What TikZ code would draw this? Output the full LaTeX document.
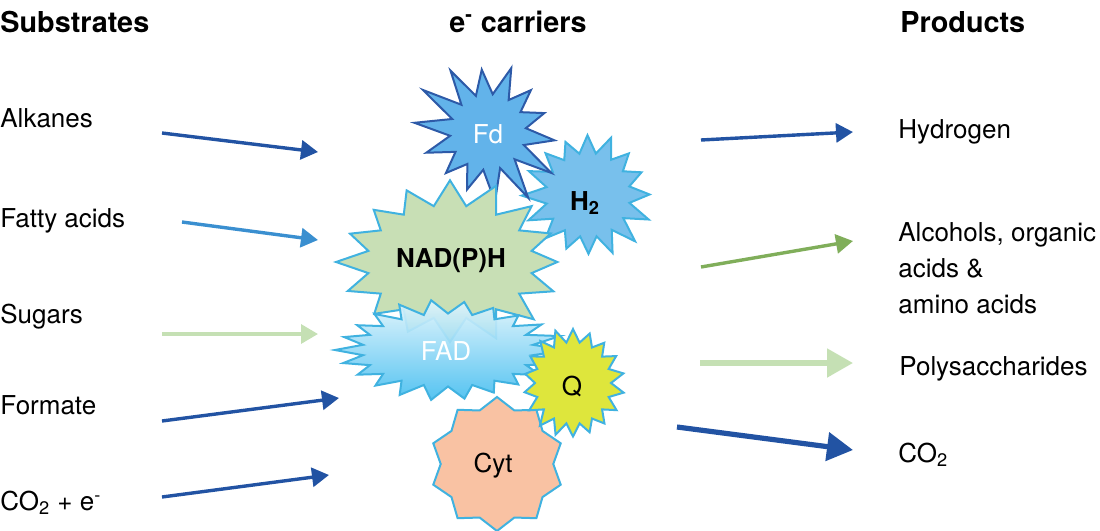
\documentclass[tikz,border=0pt]{standalone}
\usepackage{fontspec}
\setmainfont{TeX Gyre Heros}
\usetikzlibrary{arrows.meta}
\definecolor{dblue}{HTML}{2253A3}
\definecolor{mblue}{HTML}{3A8FD0}
\definecolor{lgreen}{HTML}{C5E0B4}
\definecolor{mgreen}{HTML}{80AE5A}
\definecolor{fdfill}{HTML}{62B3EA}
\definecolor{fdline}{HTML}{2D5AA8}
\definecolor{hfill}{HTML}{78C0EC}
\definecolor{cyanline}{HTML}{40B2E0}
\definecolor{nadfill}{HTML}{C8DFB5}
\definecolor{fadtop}{HTML}{E2F5FC}
\definecolor{fadbot}{HTML}{46BEF0}
\definecolor{qfill}{HTML}{DEE63C}
\definecolor{cytfill}{HTML}{F9C2A3}
\newcommand\burst[9]{%
  \pgfmathtruncatemacro\burstlast{2*#4-1}%
  \path[#1] ({#2+#5*cos(#8)},{#3+#6*sin(#8)})
    \foreach \k [evaluate=\k as \f using {isodd(\k) ? #7 : 1+#9*sin(\k*151)}] in {1,...,\burstlast}
      { -- ({#2+#5*\f*cos(#8+\k*180/#4)},{#3+#6*\f*sin(#8+\k*180/#4)}) } -- cycle;}
\begin{document}
\begin{tikzpicture}[x=0.5pt,y=-0.5pt,
  lab/.style={inner sep=0pt, font=\fontsize{13}{15}\selectfont},
  head/.style={inner sep=0pt, font=\fontsize{14.4}{17}\selectfont\bfseries},
  startext/.style={inner sep=0pt, font=\fontsize{13}{15}\selectfont},
  arr/.style={-{Triangle[length=8.5pt,width=9.5pt]}, line width=1.7pt},
  bigarr/.style={-{Triangle[length=13pt,width=14pt]}, line width=2.6pt},
  outline/.style={line width=1pt, line join=miter}]
\useasboundingbox (0,0) rectangle (1100,531);
% headers
\node[head, anchor=base west] (hsub) at (0,32) {Substrates};
\node[head, anchor=base] (hcar) at (518,32) {e\textsuperscript{-} carriers};
\node[head, anchor=base west] (hprod) at (900,32) {Products};
% substrates
\node[lab, anchor=base west] (alk) at (0,127) {Alkanes};
\node[lab, anchor=base west] (fat) at (0,227) {Fatty acids};
\node[lab, anchor=base west] (sug) at (0,323) {Sugars};
\node[lab, anchor=base west] (form) at (0,414) {Formate};
\node[lab, anchor=base west] (co2e) at (0,510) {CO\textsubscript{2} + e\textsuperscript{-}};
% products
\node[lab, anchor=base west] (hyd) at (898,138) {Hydrogen};
\node[lab, anchor=base west] (alc1) at (898,241) {Alcohols, organic};
\node[lab, anchor=base west] (alc2) at (898,277) {acids \&};
\node[lab, anchor=base west] (alc3) at (898,313) {amino acids};
\node[lab, anchor=base west] (poly) at (899,375) {Polysaccharides};
\node[lab, anchor=base west] (co2p) at (898,462) {CO\textsubscript{2}};
% carriers
\burst{draw=cyanline, fill=hfill, outline}{588}{195}{16}{62}{62}{0.68}{-68}{0.07}
\burst{draw=fdline, fill=fdfill, outline}{488}{132}{14}{68}{68}{0.56}{-70}{0.14}
\burst{draw=cyanline, fill=nadfill, outline}{450}{262}{16}{114}{78}{0.73}{180}{0.06}
\burst{draw=cyanline, top color=fadtop, bottom color=fadbot, fill opacity=0.92, outline}{448}{350}{22}{113}{48}{0.76}{180}{0.05}
\burst{draw=cyanline, fill=cytfill, outline}{497}{464}{10}{67}{67}{0.84}{-90}{0}
\burst{draw=cyanline, fill=qfill, outline}{573}{383}{18}{50}{54}{0.76}{-90}{0.03}
\node[startext, text=white] (fd) at (488,134) {Fd};
\node[startext, font=\fontsize{13}{15}\selectfont\bfseries] (h2) at (585,203) {H\textsubscript{2}};
\node[startext, font=\fontsize{13}{15}\selectfont\bfseries] (nad) at (451,261) {NAD(P)H};
\node[startext, text=white] (fad) at (446,351) {FAD};
\node[startext] (q) at (572,386) {Q};
\node[startext] (cyt) at (493,466) {Cyt};
% arrow end points
\coordinate (s1a) at (162,133); \coordinate (s1b) at (318,152);
\coordinate (s2a) at (182,222); \coordinate (s2b) at (318,240);
\coordinate (s3a) at (162,334); \coordinate (s3b) at (318,334);
\coordinate (s4a) at (162,421); \coordinate (s4b) at (339,398);
\coordinate (s5a) at (162,497); \coordinate (s5b) at (329,475);
\coordinate (p1a) at (701,140); \coordinate (p1b) at (853,132);
\coordinate (p2a) at (701,267); \coordinate (p2b) at (853,241);
\coordinate (p3a) at (700,363); \coordinate (p3b) at (853,363);
\coordinate (p4a) at (677,427); \coordinate (p4b) at (853,450);
\draw[arr, dblue] (s1a) -- (s1b);
\draw[arr, mblue] (s2a) -- (s2b);
\draw[arr, lgreen] (s3a) -- (s3b);
\draw[arr, dblue] (s4a) -- (s4b);
\draw[arr, dblue] (s5a) -- (s5b);
\draw[arr, dblue] (p1a) -- (p1b);
\draw[arr, mgreen] (p2a) -- (p2b);
\draw[bigarr, lgreen] (p3a) -- (p3b);
\draw[bigarr, dblue] (p4a) -- (p4b);
\end{tikzpicture}
\end{document}
